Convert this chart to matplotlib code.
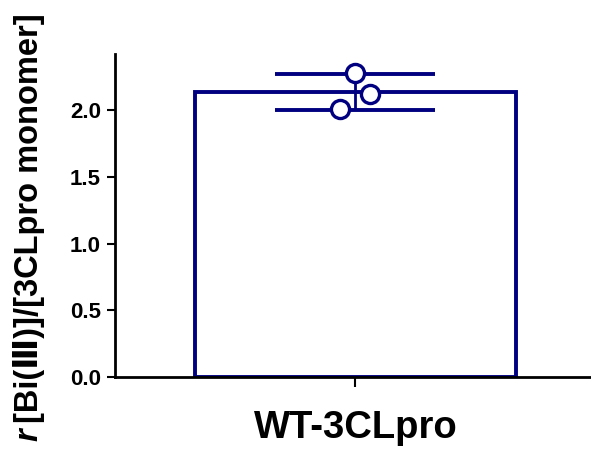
import matplotlib.pyplot as plt
import numpy as np

plt.rcParams['font.family'] = ['Liberation Sans', 'DejaVu Sans']
plt.rcParams['font.weight'] = 'bold'

categories = ['WT-3CLpro']
replicates = [2.28, 2.12, 2.01]
jitter = [0.0, 0.045, -0.047]

navy = '#000080'

mean = np.mean(replicates)
sd = np.std(replicates, ddof=1)

fig = plt.figure(figsize=(5.91, 4.54), dpi=100)
ax = fig.add_axes([115 / 591, 77 / 454, 476 / 591, 323 / 454])

ax.bar(0, mean, width=1.0, facecolor='none', edgecolor=navy, linewidth=2.8)
ax.errorbar(0, mean, yerr=sd, fmt='none', ecolor=navy, elinewidth=2,
            capsize=80 * 72 / 100, capthick=2.8, zorder=3)
ax.scatter(np.array(jitter), replicates, s=170, facecolors='white',
           edgecolors=navy, linewidths=2.4, zorder=4)

ax.set_xlim(-0.749, 0.734)
ax.set_ylim(0, 2.42)
ax.set_yticks([0.0, 0.5, 1.0, 1.5, 2.0])
ax.set_yticklabels(['0.0', '0.5', '1.0', '1.5', '2.0'])
ax.set_xticks([0])
ax.set_xticklabels(categories, fontsize=27.5, fontweight='bold')
ax.tick_params(axis='y', labelsize=16, width=1.5, length=6, pad=4)
ax.tick_params(axis='x', width=1.5, length=7, pad=17)

for side in ['top', 'right']:
    ax.spines[side].set_visible(False)
for side in ['left', 'bottom']:
    ax.spines[side].set_linewidth(2)

fig.text(29 / 591, 1 - 423 / 454, '[Bi(Ⅲ)]/[3CLpro monomer]', rotation=90,
         ha='center', va='bottom', fontsize=23.5, fontweight='bold')
fig.text(29 / 591, 1 - 428 / 454, 'r', rotation=90, ha='center', va='top',
         fontsize=23.5, fontweight='bold', fontstyle='italic')

fig.savefig('out.png', dpi=100)
